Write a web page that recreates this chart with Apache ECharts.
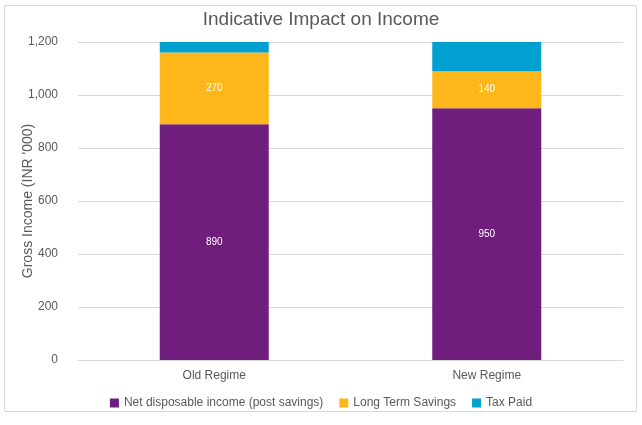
<!DOCTYPE html>
<html><head><meta charset="utf-8">
<script src="https://cdn.jsdelivr.net/npm/echarts@6/dist/echarts.min.js"></script>
<style>html,body{margin:0;padding:0;background:#fff;}#c{width:642px;height:425px;}</style>
</head><body><div id="c"></div>
<script>
const categories = ['Old Regime', 'New Regime'];
const netDisposable = [890, 950];
const longTermSavings = [270, 140];
const taxPaid = [40, 110];
const yTicks = {min: 0, max: 1200, interval: 200};

const chart = echarts.init(document.getElementById('c'));
const lbl = {show: true, position: 'inside', color: '#ffffff', fontSize: 10, fontFamily: 'Arial, Liberation Sans'};
chart.setOption({
  animation: false,
  backgroundColor: '#ffffff',
  textStyle: {fontFamily: 'Arial, Liberation Sans'},
  graphic: [{type: 'rect', shape: {x: 4.5, y: 5.5, width: 632, height: 406}, style: {fill: 'none', stroke: '#d9d9d9', lineWidth: 1}, silent: true}],
  title: {text: 'Indicative Impact on Income', left: 'center', top: 5,
    textStyle: {color: '#595959', fontSize: 19, fontWeight: 'normal', fontFamily: 'Arial, Liberation Sans'}},
  legend: {bottom: 11, left: 'center', itemWidth: 9, itemHeight: 9, itemGap: 16, icon: 'rect',
    textStyle: {color: '#595959', fontSize: 12}},
  grid: {left: 78, right: 19, top: 42, bottom: 65, outerBoundsMode: 'none', containLabel: false},
  xAxis: {type: 'category', data: categories,
    axisLine: {lineStyle: {color: '#d9d9d9'}}, axisTick: {show: false},
    axisLabel: {color: '#595959', fontSize: 12, margin: 10}},
  yAxis: {type: 'value', min: yTicks.min, max: yTicks.max, interval: yTicks.interval,
    name: "Gross Income (INR '000)", nameLocation: 'middle', nameGap: 43, nameMoveOverlap: false,
    nameTextStyle: {color: '#595959', fontSize: 14},
    axisLine: {show: false}, axisTick: {show: false},
    axisLabel: {color: '#595959', fontSize: 12, margin: 20,
      formatter: v => v.toLocaleString('en-US')},
    splitLine: {lineStyle: {color: '#d9d9d9'}}},
  series: [
    {name: 'Net disposable income (post savings)', type: 'bar', stack: 's', data: netDisposable,
      barWidth: '40%', itemStyle: {color: '#701E7E'}, label: lbl},
    {name: 'Long Term Savings', type: 'bar', stack: 's', data: longTermSavings,
      itemStyle: {color: '#FDB71B'}, label: lbl},
    {name: 'Tax Paid', type: 'bar', stack: 's', data: taxPaid,
      itemStyle: {color: '#00A0D1'}, label: {show: false}}
  ]
});
</script></body></html>
